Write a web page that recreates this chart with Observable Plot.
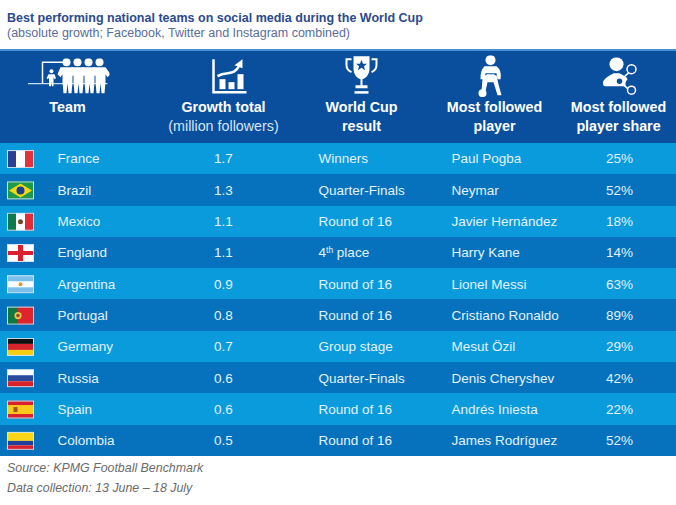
<!DOCTYPE html>
<html><head><meta charset="utf-8">
<script src="https://cdn.jsdelivr.net/npm/d3@7"></script>
<script src="https://cdn.jsdelivr.net/npm/@observablehq/plot@0.6"></script>
<style>
html,body{margin:0;padding:0;background:#fff;width:676px;overflow:hidden}
#head{height:49px;box-sizing:border-box;padding:10.5px 0 0 7px;font-family:"Liberation Sans",Arial,sans-serif;font-size:12.5px;line-height:15px}
#head b{color:#2c4a8c;font-weight:700;display:block}
#head span{color:#5a6d9a;display:block}
#foot{padding:2px 0 0 7px;font-family:"Liberation Sans",Arial,sans-serif;font-style:italic;font-size:12.4px;line-height:20px;color:#6b6b6b}
svg{display:block}
</style></head><body>
<div id="head"><b>Best performing national teams on social media during the World Cup</b><span>(absolute growth; Facebook, Twitter and Instagram combined)</span></div>
<div id="chart"></div>
<div id="foot">Source: KPMG Football Benchmark<br>Data collection: 13 June – 18 July</div>
<script>
const teams = ["France","Brazil","Mexico","England","Argentina","Portugal","Germany","Russia","Spain","Colombia"];
const growth = ["1.7","1.3","1.1","1.1","0.9","0.8","0.7","0.6","0.6","0.5"];
const results = ["Winners","Quarter-Finals","Round of 16","4th place","Round of 16","Round of 16","Group stage","Quarter-Finals","Round of 16","Round of 16"];
const players = ["Paul Pogba","Neymar","Javier Hernández","Harry Kane","Lionel Messi","Cristiano Ronaldo","Mesut Özil","Denis Cheryshev","Andrés Iniesta","James Rodríguez"];
const shares = ["25%","52%","18%","14%","63%","89%","29%","42%","22%","52%"];
const headerLines = [
  {x:67,  a:"Team", b:""},
  {x:223, a:"Growth total", b:"(million followers)"},
  {x:361, a:"World Cup", b:"result"},
  {x:494, a:"Most followed", b:"player"},
  {x:618, a:"Most followed", b:"player share"}
];
const C = {head:"#0a4f9e", light:"#0a9bdc", dark:"#0672bd", text:"#e3f2fb", white:"#fff"};
const uri = s => "data:image/svg+xml," + encodeURIComponent(s);
const flagSvg = inner => uri(`<svg xmlns="http://www.w3.org/2000/svg" viewBox="0 0 27 18" preserveAspectRatio="none"><rect width="27" height="18" fill="#fff"/>${inner}<rect x=".5" y=".5" width="26" height="17" fill="none" stroke="#cfe3f2" stroke-width="1"/></svg>`);
const flags = {
 France: flagSvg(`<rect width="9" height="18" fill="#2b3f8f"/><rect x="18" width="9" height="18" fill="#e2323c"/>`),
 Brazil: flagSvg(`<rect width="27" height="18" fill="#1f9a4b"/><path d="M13.5 2 25 9 13.5 16 2 9z" fill="#f5d90f"/><circle cx="13.5" cy="9" r="4" fill="#1c3f8f"/>`),
 Mexico: flagSvg(`<rect width="9" height="18" fill="#0f7a4c"/><rect x="18" width="9" height="18" fill="#df2c37"/><circle cx="13.5" cy="9" r="2.5" fill="#6d4a2a"/>`),
 England: flagSvg(`<rect x="11" width="5" height="18" fill="#d8202e"/><rect y="7" width="27" height="4" fill="#d8202e"/>`),
 Argentina: flagSvg(`<rect width="27" height="6" fill="#7cc0ea"/><rect y="12" width="27" height="6" fill="#7cc0ea"/><circle cx="13.5" cy="9" r="2" fill="#d99a3a"/>`),
 Portugal: flagSvg(`<rect width="11" height="18" fill="#12773f"/><rect x="11" width="16" height="18" fill="#e0242e"/><circle cx="11" cy="9" r="3.6" fill="#e6c84a"/><circle cx="11" cy="9" r="1.8" fill="#a8402e"/>`),
 Germany: flagSvg(`<rect width="27" height="6" fill="#111"/><rect y="6" width="27" height="6" fill="#d8232b"/><rect y="12" width="27" height="6" fill="#f7cd14"/>`),
 Russia: flagSvg(`<rect y="6" width="27" height="6" fill="#2a4a9c"/><rect y="12" width="27" height="6" fill="#d8232b"/>`),
 Spain: flagSvg(`<rect width="27" height="18" fill="#d8202e"/><rect y="4.5" width="27" height="9" fill="#f8c81a"/><rect x="6.5" y="6.5" width="4" height="5" fill="#a8502a"/>`),
 Colombia: flagSvg(`<rect width="27" height="9" fill="#fbd616"/><rect y="9" width="27" height="4.5" fill="#24409a"/><rect y="13.5" width="27" height="4.5" fill="#d8202e"/>`)
};
const man = x => `<circle cx="${x}" cy="4" r="4"/><path d="M${x-6} 9h12l5 7-3 3-2-3v8l-1 11h-3l-1-10-1 10h-3l-1-11v-8l-2 3-3-3z"/>`;
const icons = [
 {x:68, w:82, h:36, s:`<svg xmlns="http://www.w3.org/2000/svg" viewBox="0 0 82 36" fill="#fff"><path d="M0 25.5H80" stroke="#c8dcf0" stroke-width="1.2"/><path d="M15 25V4H36" stroke="#fff" stroke-width="1.5" fill="none"/><circle cx="24" cy="13" r="2"/><path d="M21 16h6l1.500 4-1.500 1-1-2v9h-1.500l-.5-5-.5 5H21.500v-9l-1 2-1.500-1z"/>${man(39)}${man(50)}${man(61)}${man(72)}</svg>`},
 {x:229, w:36, h:36, s:`<svg xmlns="http://www.w3.org/2000/svg" viewBox="0 0 36 36" fill="#fff"><path d="M2 1V34H35" fill="none" stroke="#fff" stroke-width="2.500"/><rect x="8" y="21" width="6" height="10"/><rect x="17" y="24" width="6" height="7"/><rect x="26" y="16" width="6" height="15"/><path d="M6 18C16 12 22 19 28 7" fill="none" stroke="#fff" stroke-width="2.500"/><path d="M23 7 31 1 31 10z"/></svg>`},
 {x:361, w:36, h:42, s:`<svg xmlns="http://www.w3.org/2000/svg" viewBox="0 0 36 42" fill="#fff"><path d="M10 1H26V13C26 20 22 23 19 24V30H24V33H12V30H17V24C14 23 10 20 10 13Z"/><rect x="11" y="36" width="14" height="2.500"/><path d="M8 4H3V10C3 14 6 16 8 17M28 4H33V10C33 14 30 16 28 17" fill="none" stroke="#fff" stroke-width="2"/><path d="M18 4.500 19.500 8.500H23.500L20.500 11 21.500 15 18 12.500 14.500 15 15.500 11 12.500 8.500H16.500Z" fill="#0a4f9e"/></svg>`},
 {x:491, w:28, h:42, s:`<svg xmlns="http://www.w3.org/2000/svg" viewBox="0 0 28 42" fill="#fff"><circle cx="13" cy="5" r="5"/><path d="M7 11H19C23 14 24 19 23 24H20L19 18 8 18 7 24H3C3 18 4 14 7 11Z"/><path d="M7 20H19L21 29 24 40H20L16 27H10L8 36H4L5 24Z"/><path d="M9 19H17V21H9Z"/><circle cx="5" cy="38" r="4"/></svg>`},
 {x:620, w:36, h:38, s:`<svg xmlns="http://www.w3.org/2000/svg" viewBox="0 0 36 38" fill="#fff"><circle cx="14" cy="7" r="7"/><path d="M0 26C2 20 8 18 11 16H17C20 18 24 19 25 22L21 28 19 26H0Z"/><path d="M1 24H23V29H3C1 29 0 28 1 24Z"/><path d="M17 24 28 14M17 24 28 34" stroke="#fff" stroke-width="1.500"/><circle cx="17" cy="24" r="3.500" fill="#0a4f9e" stroke="#fff" stroke-width="1.500"/><circle cx="29" cy="12" r="4.500" fill="#0a4f9e" stroke="#fff" stroke-width="1.500"/><circle cx="29" cy="33" r="4" fill="#0a4f9e" stroke="#fff" stroke-width="1.500"/></svg>`}
];
const table = teams.map((team,i)=>({team,growth:growth[i],result:results[i],player:players[i],share:shares[i],odd:i%2===0}));
const headBands = ["h1","h2","h3"];
const font = "Liberation Sans, Arial, sans-serif";
const txt = {fontFamily:font,fontSize:13.5,fill:C.text};
const hd = {fontFamily:font,fontSize:14.3,fill:C.white,textAnchor:"middle"};
const svg = Plot.plot({
  width:676,height:407,margin:0,
  x:{type:"linear",domain:[0,676],range:[0,676],axis:null},
  y:{type:"band",domain:[...headBands,...teams],range:[0,407],padding:0,round:false,axis:null},
  marks:[
    Plot.barX(headBands,{x1:0,x2:676,y:d=>d,fill:C.head,shapeRendering:"crispEdges"}),
    Plot.ruleY([0],{x1:0,x2:676,y:()=>"h1",dy:-15.2,stroke:"#5ea8e6",strokeWidth:1.5}),
    Plot.barX(table,{x1:0,x2:676,y:"team",fill:d=>d.odd?C.light:C.dark,shapeRendering:"crispEdges"}),
    Plot.image(icons,{x:"x",y:()=>"h1",dy:11,width:"w",height:"h",src:d=>uri(d.s),preserveAspectRatio:"none"}),
    Plot.text(headerLines,{x:"x",y:()=>"h3",text:"a",dy:-20,...hd,fontWeight:700}),
    Plot.text(headerLines.filter(d=>!d.b.startsWith("(")),{x:"x",y:()=>"h3",text:"b",dy:-1,...hd,fontWeight:700}),
    Plot.text(headerLines.filter(d=>d.b.startsWith("(")),{x:"x",y:()=>"h3",text:"b",dy:-1,...hd,fontWeight:400,fill:"#d5e6f5"}),
    Plot.image(table,{x:20,y:"team",width:27,height:18,src:d=>flags[d.team],preserveAspectRatio:"none"}),
    Plot.text(table,{x:57,y:"team",text:"team",textAnchor:"start",...txt}),
    Plot.text(table,{x:223,y:"team",text:"growth",textAnchor:"middle",...txt}),
    Plot.text(table,{x:318,y:"team",text:"result",textAnchor:"start",...txt}),
    Plot.text(table,{x:451,y:"team",text:"player",textAnchor:"start",...txt}),
    Plot.text(table,{x:619,y:"team",text:"share",textAnchor:"middle",...txt})
  ]
});
svg.style.background="#fff";
svg.querySelectorAll("text").forEach(t=>{
  if(t.textContent==="4th place"){
    t.textContent="";
    const add=(s,extra)=>{const e=document.createElementNS("http://www.w3.org/2000/svg","tspan");e.textContent=s;for(const k in extra)e.setAttribute(k,extra[k]);t.appendChild(e);};
    add("4",{}); add("th",{dy:"-4","font-size":"8.5"}); add(" place",{dy:"4"});
  }
});
document.getElementById("chart").appendChild(svg);
</script>
</body></html>
